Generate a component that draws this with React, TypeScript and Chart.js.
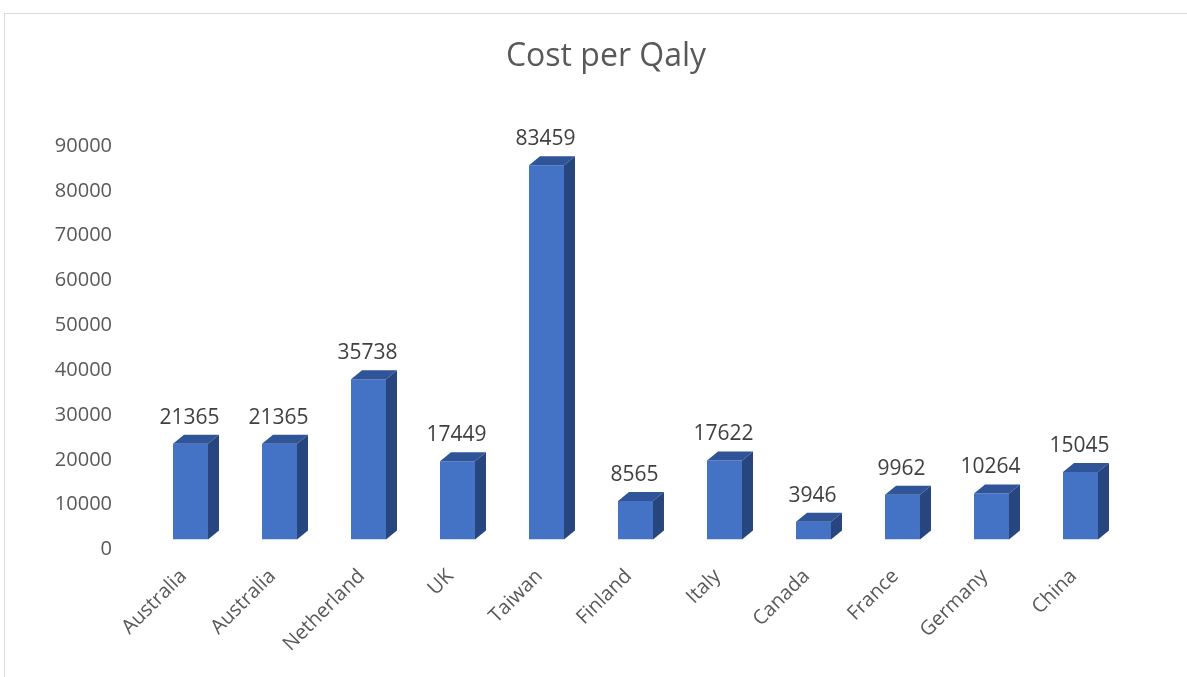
import React, { useEffect, useRef } from "react";
import { Chart, registerables } from "chart.js";

Chart.register(...registerables);

const chartTitle = "Cost per Qaly";
const categories = ["Australia", "Australia", "Netherland", "UK", "Taiwan", "Finland", "Italy", "Canada", "France", "Germany", "China"];
const costPerQaly = [21365, 21365, 35738, 17449, 83459, 8565, 17622, 3946, 9962, 10264, 15045];
const yTicks = [0, 10000, 20000, 30000, 40000, 50000, 60000, 70000, 80000, 90000];

const FONT = "'Open Sans', 'Noto Sans', sans-serif";
const DX = 11;
const DY = 9;

const bar3dPlugin = {
  id: "bar3d",
  afterDatasetsDraw(chart: any) {
    const ctx = chart.ctx;
    const meta = chart.getDatasetMeta(0);
    ctx.save();
    meta.data.forEach((bar: any, i: number) => {
      const p = bar.getProps(["x", "y", "base", "width"], true);
      const left = p.x - p.width / 2;
      const right = p.x + p.width / 2;
      const top = p.y;
      const base = p.base;
      // top face
      ctx.fillStyle = "#2f5598";
      ctx.beginPath();
      ctx.moveTo(left, top);
      ctx.lineTo(right, top);
      ctx.lineTo(right + DX, top - DY);
      ctx.lineTo(left + DX, top - DY);
      ctx.closePath();
      ctx.fill();
      // side face
      ctx.fillStyle = "#27467f";
      ctx.beginPath();
      ctx.moveTo(right, top);
      ctx.lineTo(right + DX, top - DY);
      ctx.lineTo(right + DX, base - DY);
      ctx.lineTo(right, base);
      ctx.closePath();
      ctx.fill();
      // data label
      ctx.fillStyle = "#404040";
      ctx.font = `21px ${FONT}`;
      ctx.textAlign = "center";
      ctx.textBaseline = "middle";
      ctx.fillText(String(costPerQaly[i]), p.x - 1, top - 26);
    });
    ctx.restore();
  },
};

const titlePlugin = {
  id: "excelTitle",
  afterDraw(chart: any) {
    const ctx = chart.ctx;
    ctx.save();
    ctx.fillStyle = "#595959";
    ctx.font = `32px ${FONT}`;
    ctx.textAlign = "center";
    ctx.textBaseline = "middle";
    ctx.fillText(chartTitle, 606, 57);
    ctx.restore();
  },
};

export default function App() {
  const ref = useRef<HTMLCanvasElement | null>(null);
  useEffect(() => {
    if (!ref.current) return;
    const chart = new Chart(ref.current, {
      type: "bar",
      data: {
        labels: categories,
        datasets: [
          {
            label: chartTitle,
            data: costPerQaly,
            backgroundColor: "#4472c4",
            borderWidth: 0,
            barPercentage: 0.393,
            categoryPercentage: 1,
          },
        ],
      },
      options: {
        animation: false,
        responsive: false,
        maintainAspectRatio: false,
        layout: { padding: { left: 0, right: 62, top: 136, bottom: 0 } },
        plugins: {
          legend: { display: false },
          tooltip: { enabled: false },
          title: { display: false },
        },
        scales: {
          x: {
            grid: { display: false, drawTicks: false },
            border: { display: false },
            ticks: {
              color: "#595959",
              font: { family: FONT, size: 20 },
              minRotation: 45,
              maxRotation: 45,
              padding: 25,
              labelOffset: -7,
              autoSkip: false,
            },
            afterFit(scale: any) {
              scale.height = 137.5;
            },
          },
          y: {
            min: 0,
            max: 90000,
            afterBuildTicks(scale: any) {
              scale.ticks = yTicks.map((v) => ({ value: v }));
            },
            grid: { display: false, drawTicks: false },
            border: { display: false },
            ticks: {
              color: "#595959",
              font: { family: FONT, size: 20 },
              padding: 34,
              labelOffset: 10,
              callback: (v: any) => String(v),
            },
            afterFit(scale: any) {
              scale.width = 146;
            },
          },
        },
      },
      plugins: [bar3dPlugin, titlePlugin],
    });
    return () => chart.destroy();
  }, []);

  return (
    <div style={{ position: "fixed", left: 0, top: 0, width: 1187, height: 677, background: "#fff", overflow: "hidden" }}>
      <div
        style={{
          position: "absolute",
          left: 4,
          top: 13,
          width: 1200,
          height: 700,
          border: "1px solid #d9d9d9",
          boxSizing: "border-box",
        }}
      />
      <canvas ref={ref} width={1187} height={677} style={{ position: "absolute", left: 0, top: 0 }} />
    </div>
  );
}
